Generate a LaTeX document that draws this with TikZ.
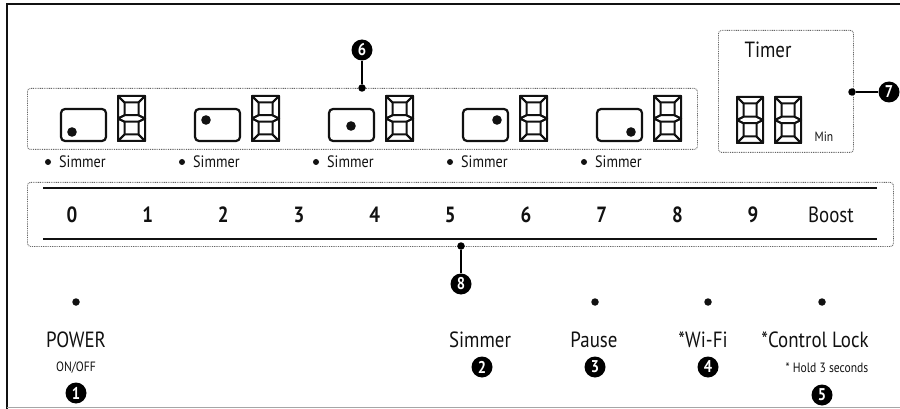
\documentclass[tikz,border=0pt]{standalone}
\usepackage{fontspec}
\setmainfont[FakeStretch=0.86]{PT Sans}
\definecolor{ink}{HTML}{111111}
\definecolor{dotgray}{HTML}{666666}
\newcommand{\fbig}{\fontsize{22}{26}\selectfont}
\newcommand{\fmid}{\fontsize{16.5}{19}\selectfont}
\newcommand{\fsmall}{\fontsize{13.5}{16}\selectfont}
% seven-segment "8": #1,#2 top-left, #3 width, #4 height
\newcommand{\lcdeight}[4]{%
\begin{scope}[shift={(#1,#2)}]
\pgfmathsetmacro{\w}{#3}\pgfmathsetmacro{\h}{#4}\pgfmathsetmacro{\t}{6.5}
\pgfmathsetmacro{\hm}{\h/2}\pgfmathsetmacro{\hu}{\h/2-\t/2}\pgfmathsetmacro{\hl}{\h/2+\t/2}
\pgfmathsetmacro{\wt}{\w-\t}\pgfmathsetmacro{\ht}{\h-\t}
\draw[seg] (0,0)--(\w,0)--(\wt,\t)--(\t,\t)--cycle;
\draw[seg] (0,0)--(\t,\t)--(\t,\hu)--(0,\hm)--cycle;
\draw[seg] (\w,0)--(\w,\hm)--(\wt,\hu)--(\wt,\t)--cycle;
\draw[seg] (0,\hm)--(\t,\hu)--(\wt,\hu)--(\w,\hm)--(\wt,\hl)--(\t,\hl)--cycle;
\draw[seg] (0,\hm)--(\t,\hl)--(\t,\ht)--(0,\h)--cycle;
\draw[seg] (\w,\hm)--(\w,\h)--(\wt,\ht)--(\wt,\hl)--cycle;
\draw[seg] (0,\h)--(\t,\ht)--(\wt,\ht)--(\w,\h)--cycle;
\end{scope}}
\begin{document}
\begin{tikzpicture}[x=1pt,y=-1pt,
  txt/.style={inner sep=0pt, text=ink},
  num/.style={circle, fill=black, text=white, minimum size=21pt, inner sep=0pt, font=\fontsize{17}{17}\selectfont\bfseries},
  lead/.style={draw=black, line width=1.2pt},
  ldot/.style={circle, fill=black, minimum size=7.5pt, inner sep=0pt},
  bdot/.style={circle, fill=ink, minimum size=7.5pt, inner sep=0pt},
  sdot/.style={circle, fill=ink, minimum size=6pt, inner sep=0pt},
  dotbox/.style={draw=dotgray, line width=0.9pt, dash pattern=on 0.9pt off 0.9pt, rounded corners=3pt, inner sep=0pt},
  seg/.style={draw=ink, line width=2pt, line join=round},
  pot/.style={draw=ink, line width=2.2pt, rounded corners=4pt},
  scaleline/.style={draw=ink, line width=2.2pt},
]
\useasboundingbox (0,0) rectangle (900,409);
% frame
\draw[line width=2pt, draw=ink] (900,4) -- (7,4) -- (7,409);
\draw[line width=1pt, draw=black!35] (7,407) -- (900,407);

% zone 6: burners
\node[dotbox, anchor=north west, minimum width=670pt, minimum height=61pt] (zone6) at (27,88) {};
\foreach \i/\dx/\dy in {0/11/23, 1/11/11, 2/22/17, 3/34/11, 4/34/23}{
  \pgfmathsetmacro{\px}{61+134*\i}
  \draw[pot] (\px,109) rectangle ++(45,32);
  \fill[ink] (\px+\dx,109+\dy) circle (4.8);
  \lcdeight{118+134*\i}{96}{27}{45}
  \node[sdot] (sb\i) at (48+134*\i,162) {};
  \node[txt, anchor=west, font=\fmid] (sl\i) at (59+134*\i,162) {Simmer};
}
\node[ldot] (d6) at (362,88) {};
\node[num] (n6) at (362,50) {6};
\draw[lead] (n6) -- (d6);

% zone 7: timer
\node[dotbox, anchor=north west, minimum width=135pt, minimum height=122pt] (zone7) at (718,30) {};
\node[txt, font=\fbig] (timer) at (768,50) {Timer};
\lcdeight{737}{97}{26}{46}
\lcdeight{775}{97}{26}{46}
\node[txt, font=\fsmall] (min) at (824,137) {Min};
\node[ldot] (d7) at (852,92) {};
\node[num] (n7) at (889,92) {7};
\draw[lead] (d7) -- (n7);

% zone 8: power scale
\node[dotbox, anchor=north west, minimum width=866pt, minimum height=64pt] (zone8) at (27,182) {};
\coordinate (st) at (43,188);
\coordinate (se) at (877,188);
\coordinate (bt) at (43,239);
\coordinate (be) at (877,239);
\draw[scaleline] (st) -- (se);
\draw[scaleline] (bt) -- (be);
\foreach \n in {0,...,9}{
  \node[txt, font=\fbig\bfseries] (lv\n) at (72+75.67*\n,215) {\n};
}
\node[txt, font=\fbig] (boost) at (831,215) {Boost};
\node[ldot] (d8) at (461,246) {};
\node[num] (n8) at (461,284) {8};
\draw[lead] (d8) -- (n8);

% bottom buttons
\node[bdot] (pdot) at (76,302) {};
\node[bdot] (padot) at (595,302) {};
\node[bdot] (wdot) at (708,302) {};
\node[bdot] (cdot) at (822,302) {};
\node[txt, font=\fbig] (power) at (76,340) {POWER};
\node[txt, font=\fsmall] (onoff) at (76,368) {ON/OFF};
\node[num] (n1) at (76,393) {1};
\node[txt, font=\fbig] (simmer) at (480,340) {Simmer};
\node[num] (n2) at (482,367) {2};
\node[txt, font=\fbig] (pause) at (594,340) {Pause};
\node[num] (n3) at (595,367) {3};
\node[txt, font=\fbig] (wifi) at (703,340) {*Wi-Fi};
\node[num] (n4) at (708,367) {4};
\node[txt, font=\fbig] (lock) at (815,340) {*Control Lock};
\node[txt, font=\fsmall] (hold) at (827,368) {* Hold 3 seconds};
\node[num] (n5) at (822,395) {5};
\end{tikzpicture}
\end{document}
